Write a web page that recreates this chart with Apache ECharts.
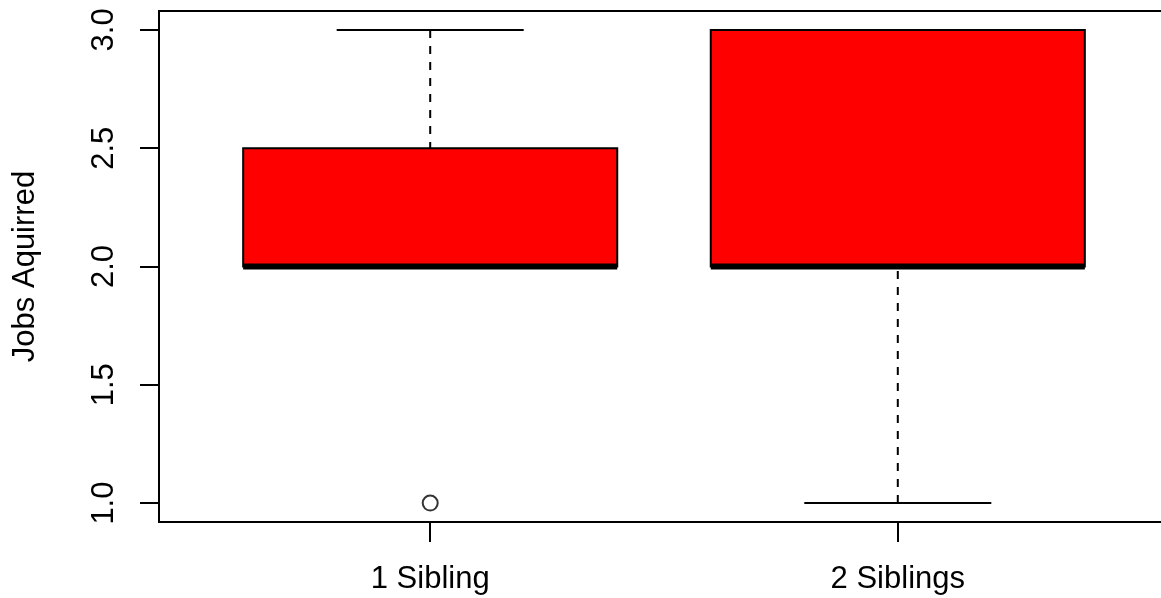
<!DOCTYPE html>
<html>
<head>
<meta charset="utf-8">
<title>Jobs Aquirred by Siblings</title>
<script src="https://cdn.jsdelivr.net/npm/echarts@6/dist/echarts.min.js"></script>
<style>
  html, body { margin: 0; padding: 0; background: #ffffff; }
  #chart { width: 1161px; height: 598px; }
</style>
</head>
<body>
<div id="chart"></div>
<script>
// Groups and their box-and-whisker statistics
const categories = ['1 Sibling', '2 Siblings'];
const positions = [1, 2];
const lowerWhisker = [2.0, 1.0];
const lowerQuartile = [2.0, 2.0];
const medians = [2.0, 2.0];
const upperQuartile = [2.5, 3.0];
const upperWhisker = [3.0, 3.0];
// Points beyond the whiskers: [group position, value]
const outliers = [[1, 1.0]];
const yTicks = [1.0, 1.5, 2.0, 2.5, 3.0];

const boxData = positions.map((p, i) => [
  p, lowerWhisker[i], lowerQuartile[i], medians[i], upperQuartile[i], upperWhisker[i]
]);

const BOX_HALF = 0.4;     // half of the box width, in axis units
const STAPLE_HALF = 0.2;  // half of the whisker cap width
const LINE = 2;
const DASH = [8, 8];

function renderBox(params, api) {
  const x = api.value(0);
  const low = api.value(1), q1 = api.value(2), med = api.value(3),
        q3 = api.value(4), high = api.value(5);
  const tl = api.coord([x - BOX_HALF, q3]);
  const br = api.coord([x + BOX_HALF, q1]);
  const seg = (x1, y1, x2, y2, extra) => {
    const a = api.coord([x1, y1]);
    const b = api.coord([x2, y2]);
    return {
      type: 'line',
      shape: { x1: a[0], y1: a[1], x2: b[0], y2: b[1] },
      style: Object.assign({ stroke: '#000000', lineWidth: LINE, fill: null }, extra || {})
    };
  };
  return {
    type: 'group',
    children: [
      {
        type: 'rect',
        shape: { x: tl[0], y: tl[1], width: br[0] - tl[0], height: br[1] - tl[1] },
        style: { fill: '#ff0000', stroke: '#000000', lineWidth: LINE }
      },
      seg(x, high, x, q3, { lineDash: DASH }),
      seg(x, low, x, q1, { lineDash: DASH }),
      seg(x - STAPLE_HALF, high, x + STAPLE_HALF, high),
      seg(x - STAPLE_HALF, low, x + STAPLE_HALF, low),
      seg(x - BOX_HALF, med, x + BOX_HALF, med, { lineWidth: 5.8 })
    ]
  };
}

const FONT = "'Liberation Sans', Arial, Helvetica, sans-serif";

const chart = echarts.init(document.getElementById('chart'), null, { renderer: 'canvas' });
chart.setOption({
  animation: false,
  backgroundColor: '#ffffff',
  grid: {
    left: 159, top: 11, width: 1010, height: 511,
    show: true, borderColor: '#000000', borderWidth: LINE,
    backgroundColor: 'transparent',
    containLabel: false, outerBoundsMode: 'none'
  },
  xAxis: {
    type: 'value',
    min: 0.42, max: 2.58,
    splitLine: { show: false },
    axisLine: { show: false },
    axisTick: {
      show: true, inside: false, length: 20,
      customValues: positions,
      lineStyle: { color: '#000000', width: LINE }
    },
    axisLabel: {
      show: true, margin: 42,
      customValues: positions,
      color: '#000000', fontFamily: FONT, fontSize: 31,
      formatter: v => categories[Math.round(v) - 1]
    }
  },
  yAxis: {
    type: 'value',
    min: 0.92, max: 3.08,
    name: 'Jobs Aquirred',
    nameLocation: 'middle',
    nameRotate: 90,
    nameGap: 118,
    nameTextStyle: { color: '#000000', fontFamily: FONT, fontSize: 31 },
    splitLine: { show: false },
    axisLine: { show: false },
    axisTick: {
      show: true, inside: false, length: 19,
      customValues: yTicks,
      lineStyle: { color: '#000000', width: LINE }
    },
    axisLabel: {
      show: true, margin: 39, rotate: 90,
      customValues: yTicks,
      color: '#000000', fontFamily: FONT, fontSize: 31,
      formatter: v => v.toFixed(1)
    }
  },
  series: [
    {
      type: 'custom',
      renderItem: renderBox,
      encode: { x: 0, y: [1, 2, 3, 4, 5] },
      data: boxData,
      silent: true
    },
    {
      type: 'scatter',
      data: outliers,
      symbol: 'circle',
      symbolSize: 15,
      itemStyle: { color: 'rgba(0,0,0,0)', borderColor: '#000000', borderWidth: LINE },
      silent: true
    }
  ]
});
</script>
</body>
</html>
